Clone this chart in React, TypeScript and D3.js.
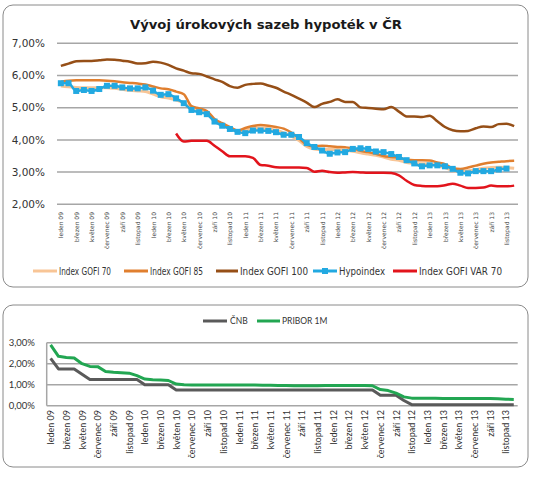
import React from "react";
import * as d3 from "d3";

const monthNames = ["leden", "únor", "březen", "duben", "květen", "červen", "červenec", "srpen", "září", "říjen", "listopad", "prosinec"];
const years = ["09", "10", "11", "12", "13"];
const months: string[] = years.flatMap((y) => monthNames.map((m) => `${m} ${y}`));

const gofi70 = [5.67, 5.65, 5.63, 5.62, 5.62, 5.62, 5.62, 5.60, 5.57, 5.54, 5.52, 5.50, 5.42, 5.34, 5.30, 5.24, 5.15, 4.98, 4.90, 4.82, 4.60, 4.45, 4.35, 4.27, 4.30, 4.35, 4.37, 4.35, 4.30, 4.22, 4.12, 3.98, 3.80, 3.72, 3.70, 3.70, 3.70, 3.68, 3.65, 3.60, 3.56, 3.52, 3.47, 3.40, 3.37, 3.30, 3.27, 3.26, 3.25, 3.20, 3.14, 3.05, 3.02, 3.04, 3.07, 3.12, 3.14, 3.15, 3.14, 3.12];
const gofi85 = [5.81, 5.84, 5.85, 5.85, 5.85, 5.85, 5.84, 5.82, 5.79, 5.77, 5.75, 5.72, 5.66, 5.60, 5.57, 5.50, 5.42, 5.05, 4.98, 4.90, 4.65, 4.52, 4.40, 4.29, 4.37, 4.43, 4.46, 4.44, 4.40, 4.35, 4.23, 4.05, 3.85, 3.80, 3.82, 3.80, 3.78, 3.77, 3.74, 3.66, 3.62, 3.57, 3.50, 3.47, 3.45, 3.38, 3.37, 3.37, 3.36, 3.30, 3.25, 3.12, 3.10, 3.14, 3.20, 3.26, 3.30, 3.32, 3.34, 3.35];
const gofi100 = [6.30, 6.37, 6.44, 6.45, 6.45, 6.47, 6.50, 6.49, 6.46, 6.43, 6.37, 6.38, 6.43, 6.40, 6.33, 6.22, 6.15, 6.07, 6.05, 5.97, 5.88, 5.80, 5.67, 5.62, 5.71, 5.74, 5.75, 5.69, 5.62, 5.50, 5.40, 5.28, 5.16, 5.02, 5.12, 5.18, 5.26, 5.18, 5.18, 5.01, 4.99, 4.97, 4.95, 5.02, 4.88, 4.73, 4.73, 4.71, 4.75, 4.58, 4.40, 4.30, 4.27, 4.28, 4.36, 4.42, 4.40, 4.49, 4.50, 4.43];
const hypoindex: (number | null)[] = [5.76, 5.76, 5.52, 5.55, 5.52, 5.58, 5.68, 5.68, 5.63, 5.60, 5.60, 5.63, 5.53, 5.40, 5.42, 5.29, 5.14, 4.93, 4.86, 4.80, 4.57, 4.44, 4.34, 4.25, 4.21, 4.29, 4.29, 4.28, 4.24, 4.16, 4.16, 4.09, 3.90, 3.78, 3.67, 3.57, 3.61, 3.62, 3.72, 3.74, 3.72, 3.64, 3.62, 3.56, 3.47, 3.37, 3.27, 3.18, 3.21, 3.21, 3.18, 3.10, 2.98, 2.96, 3.03, 3.03, 3.03, 3.08, 3.11, null];
const gofiVar70: (number | null)[] = [null, null, null, null, null, null, null, null, null, null, null, null, null, null, null, 4.20, 3.95, 3.97, 3.97, 3.97, 3.82, 3.65, 3.49, 3.49, 3.49, 3.44, 3.22, 3.20, 3.15, 3.14, 3.14, 3.14, 3.13, 3.01, 3.04, 3.00, 2.98, 2.99, 3.00, 2.99, 2.98, 2.98, 2.98, 2.97, 2.90, 2.73, 2.60, 2.57, 2.56, 2.56, 2.59, 2.64, 2.58, 2.51, 2.51, 2.52, 2.58, 2.56, 2.56, 2.58];

const cnb = [2.25, 1.75, 1.75, 1.75, 1.50, 1.25, 1.25, 1.25, 1.25, 1.25, 1.25, 1.25, 1.00, 1.00, 1.00, 1.00, 0.75, 0.75, 0.75, 0.75, 0.75, 0.75, 0.75, 0.75, 0.75, 0.75, 0.75, 0.75, 0.75, 0.75, 0.75, 0.75, 0.75, 0.75, 0.75, 0.75, 0.75, 0.75, 0.75, 0.75, 0.75, 0.75, 0.50, 0.50, 0.50, 0.25, 0.05, 0.05, 0.05, 0.05, 0.05, 0.05, 0.05, 0.05, 0.05, 0.05, 0.05, 0.05, 0.05, 0.05];
const pribor = [2.90, 2.35, 2.30, 2.27, 2.00, 1.87, 1.86, 1.63, 1.59, 1.57, 1.55, 1.43, 1.27, 1.24, 1.22, 1.20, 1.03, 1.00, 0.99, 0.99, 0.99, 0.99, 0.99, 0.98, 0.98, 0.98, 0.98, 0.97, 0.97, 0.96, 0.96, 0.95, 0.95, 0.95, 0.95, 0.96, 0.96, 0.96, 0.96, 0.96, 0.96, 0.95, 0.77, 0.72, 0.60, 0.42, 0.36, 0.36, 0.36, 0.35, 0.34, 0.34, 0.34, 0.34, 0.34, 0.34, 0.34, 0.33, 0.31, 0.30];

const topTicks = [2, 3, 4, 5, 6, 7];
const bottomTicks = [0, 1, 2, 3];

const topSeries = [
  { name: "Index GOFI 70", values: gofi70 as (number | null)[], color: "#f8c596", width: 3, marker: false },
  { name: "Index GOFI 85", values: gofi85 as (number | null)[], color: "#e07f2f", width: 2.5, marker: false },
  { name: "Index GOFI 100", values: gofi100 as (number | null)[], color: "#964f17", width: 2.5, marker: false },
  { name: "Hypoindex", values: hypoindex, color: "#22a9e1", width: 2.5, marker: true },
  { name: "Index GOFI VAR 70", values: gofiVar70, color: "#e2141c", width: 2.5, marker: false },
];
const bottomSeries = [
  { name: "ČNB", values: cnb, color: "#5a5a5a", width: 3 },
  { name: "PRIBOR 1M", values: pribor, color: "#22a652", width: 3 },
];

const fmt = (v: number) => v.toFixed(2).replace(".", ",") + "%";

export default function App() {
  const idx = d3.range(months.length);
  // top chart
  const xT = d3.scaleBand<number>().domain(idx).range([57, 518]);
  const yT = d3.scaleLinear().domain([2, 7]).range([204.3, 43.3]);
  const cxT = (i: number) => (xT(i) as number) + xT.bandwidth() / 2;
  const lineT = d3
    .line<number | null>()
    .defined((d) => d != null)
    .x((_, i) => cxT(i))
    .y((d) => yT(d as number))
    .curve(d3.curveMonotoneX);

  // bottom chart
  const xB = d3.scaleBand<number>().domain(idx).range([46.7, 517.7]);
  const yB = d3.scaleLinear().domain([0, 3]).range([405.7, 342.7]);
  const cxB = (i: number) => (xB(i) as number) + xB.bandwidth() / 2;
  const lineB = d3
    .line<number>()
    .x((_, i) => cxB(i))
    .y((d) => yB(d));

  const legendTop = [
    { x0: 33, x1: 57, tx: 59, tl: 52 },
    { x0: 124, x1: 148, tx: 150, tl: 53 },
    { x0: 216, x1: 238, tx: 240, tl: 68 },
    { x0: 313, x1: 337, tx: 339, tl: 46 },
    { x0: 393, x1: 417, tx: 419, tl: 83 },
  ];
  const legendBottom = [
    { x0: 203, x1: 227, tx: 230 },
    { x0: 257, x1: 280, tx: 282 },
  ];

  return (
    <svg width={533} height={478} style={{ position: "absolute", left: 0, top: 0, background: "#fff" }}>
      {/* Top chart frame */}
      <rect x={3} y={5} width={525} height={282} rx={10} fill="#fff" stroke="#8a8a8a" strokeWidth={1} />
      <text x={266} y={29} textAnchor="middle" fontFamily="DejaVu Sans, Verdana, sans-serif" fontWeight="bold" fontSize={13} fill="#1a1a1a" textLength={272} lengthAdjust="spacingAndGlyphs">
        Vývoj úrokových sazeb hypoték v ČR
      </text>
      {topTicks.map((t) => (
        <g key={"tt" + t}>
          <line x1={57} x2={518} y1={yT(t)} y2={yT(t)} stroke="#a6a6a6" strokeWidth={1.5} />
          <text x={45} y={yT(t)} dy="0.35em" textAnchor="end" fontFamily="DejaVu Sans, Verdana, sans-serif" fontSize={10.5} fill="#333">
            {fmt(t)}
          </text>
        </g>
      ))}
      {idx
        .filter((i) => i % 2 === 0)
        .map((i) => (
          <text key={"xl" + i} transform={`translate(${cxT(i)},212) rotate(-90)`} textAnchor="end" dominantBaseline="central" fontFamily="DejaVu Sans, Verdana, sans-serif" fontSize={6} fill="#444">
            {months[i]}
          </text>
        ))}
      {topSeries.map((s) => (
        <path key={s.name} d={lineT(s.values) || ""} fill="none" stroke={s.color} strokeWidth={s.width} strokeLinejoin="round" />
      ))}
      {hypoindex.map((v, i) =>
        v == null ? null : <rect key={"m" + i} x={cxT(i) - 3} y={yT(v) - 3} width={6} height={6} fill="#22a9e1" />
      )}
      {topSeries.map((s, k) => {
        const L = legendTop[k];
        return (
          <g key={"lg" + k}>
            <line x1={L.x0} x2={L.x1} y1={271} y2={271} stroke={s.color} strokeWidth={3} />
            {s.marker && <rect x={(L.x0 + L.x1) / 2 - 3} y={268} width={6} height={6} fill={s.color} />}
            <text x={L.tx} y={271} dy="0.35em" fontFamily="DejaVu Sans, Verdana, sans-serif" fontSize={10} fill="#333" textLength={L.tl} lengthAdjust="spacingAndGlyphs">
              {s.name}
            </text>
          </g>
        );
      })}

      {/* Bottom chart frame */}
      <rect x={3} y={305} width={525} height={162} rx={10} fill="#fff" stroke="#8a8a8a" strokeWidth={1} />
      {bottomTicks.map((t) => (
        <g key={"bt" + t}>
          <line x1={46.7} x2={517.7} y1={yB(t)} y2={yB(t)} stroke="#a6a6a6" strokeWidth={1.5} />
          <text x={35} y={yB(t)} dy="0.35em" textAnchor="end" fontFamily="Lato, sans-serif" fontSize={9.5} fill="#333">
            {fmt(t)}
          </text>
        </g>
      ))}
      <line x1={46.7} x2={46.7} y1={yB(3)} y2={yB(0)} stroke="#a6a6a6" strokeWidth={1.5} />
      {idx
        .filter((i) => i % 2 === 0)
        .map((i) => (
          <text key={"bxl" + i} transform={`translate(${cxB(i)},410) rotate(-90)`} textAnchor="end" dominantBaseline="central" fontFamily="Lato, sans-serif" fontSize={9} fill="#333">
            {months[i]}
          </text>
        ))}
      {bottomSeries.map((s) => (
        <path key={s.name} d={lineB(s.values) || ""} fill="none" stroke={s.color} strokeWidth={s.width} strokeLinejoin="round" />
      ))}
      {bottomSeries.map((s, k) => {
        const L = legendBottom[k];
        return (
          <g key={"blg" + k}>
            <line x1={L.x0} x2={L.x1} y1={321} y2={321} stroke={s.color} strokeWidth={3} />
            <text x={L.tx} y={321} dy="0.35em" fontFamily="Lato, sans-serif" fontSize={8.5} fill="#333">
              {s.name}
            </text>
          </g>
        );
      })}
    </svg>
  );
}
